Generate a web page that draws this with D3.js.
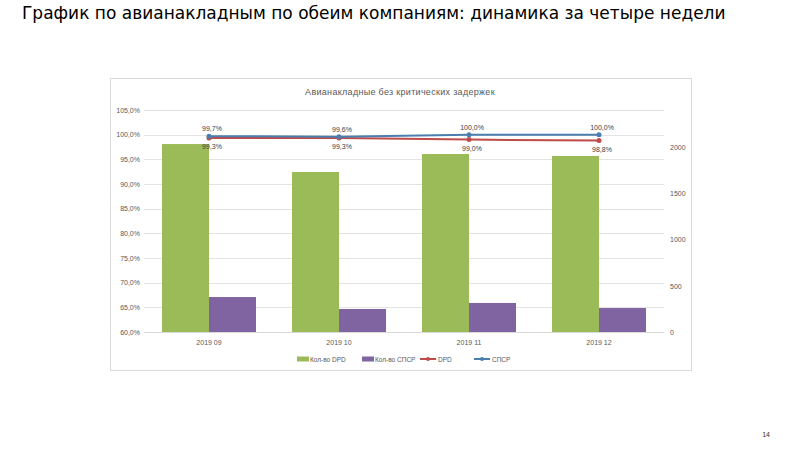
<!DOCTYPE html>
<html>
<head>
<meta charset="utf-8">
<script src="https://cdn.jsdelivr.net/npm/d3@7"></script>
<style>
  body { margin: 0; background: #fff; }
  svg { display: block; font-family: "Liberation Sans", Arial, sans-serif; }
</style>
</head>
<body>
<svg id="chart" width="800" height="449"></svg>
<script>
// data
var months = ["2019 09", "2019 10", "2019 11", "2019 12"];
var countDPD = [2032, 1730, 1924, 1903];
var countSPSR = [378, 249, 314, 259];
var shareDPD = [99.3, 99.3, 99.0, 98.8];
var shareSPSR = [99.7, 99.6, 100.0, 100.0];
var leftTicks = [60, 65, 70, 75, 80, 85, 90, 95, 100, 105];
var rightTicks = [0, 500, 1000, 1500, 2000];
var legendNames = ["Кол-во DPD", "Кол-во СПСР", "DPD", "СПСР"];

var colors = { green: "#9bbb59", purple: "#8064a2", red: "#be4b48", blue: "#4a7eae" };

var svg = d3.select("#chart");

// slide title
svg.append("text")
    .attr("x", 22)
    .attr("y", 19)
    .attr("font-family", "DejaVu Sans")
    .attr("font-size", 17)
    .attr("fill", "#000")
    .text("График по авианакладным по обеим компаниям: динамика за четыре недели");

// page number
svg.append("text")
    .attr("x", 770)
    .attr("y", 437)
    .attr("text-anchor", "end")
    .attr("font-size", 7)
    .attr("fill", "#333")
    .text("14");

// chart frame
svg.append("rect")
    .attr("x", 110.5)
    .attr("y", 78.5)
    .attr("width", 581)
    .attr("height", 292)
    .attr("fill", "#fff")
    .attr("stroke", "#d9d9d9");

svg.append("text")
    .attr("x", 400)
    .attr("y", 95)
    .attr("text-anchor", "middle")
    .attr("font-size", 9)
    .attr("letter-spacing", 0.3)
    .attr("fill", "#595959")
    .text("Авианакладные без критических задержек");

var plot = { left: 144, right: 664, top: 110, bottom: 332 };

var x0 = d3.scaleBand().domain(months).range([plot.left, plot.right]).padding(0);
var x1 = d3.scaleBand().domain(["dpd", "spsr"]).range([0, x0.bandwidth()])
    .paddingInner(0).paddingOuter(0.383);
var yLeft = d3.scaleLinear().domain([60, 105]).range([plot.bottom, plot.top]);
var yRight = d3.scaleLinear().domain([0, 2400]).range([plot.bottom, plot.top]);

// gridlines
svg.append("g")
    .selectAll("line")
    .data(leftTicks)
    .enter()
    .append("line")
    .attr("x1", plot.left)
    .attr("x2", plot.right)
    .attr("y1", function(d) { return Math.round(yLeft(d)) + 0.5; })
    .attr("y2", function(d) { return Math.round(yLeft(d)) + 0.5; })
    .attr("stroke", "#e3e3e3");

// left axis
var fmtPct = function(d) { return d.toFixed(1).replace(".", ",") + "%"; };
var gl = svg.append("g")
    .attr("transform", "translate(" + (plot.left - 4) + ",0)")
    .call(d3.axisLeft(yLeft).tickValues(leftTicks).tickFormat(fmtPct).tickSize(0).tickPadding(0));
gl.select(".domain").remove();
gl.selectAll("text").attr("font-size", 7).attr("fill", "#595959").attr("font-family", "Liberation Sans");

// right axis
var gr = svg.append("g")
    .attr("transform", "translate(" + (plot.right + 6) + ",0)")
    .call(d3.axisRight(yRight).tickValues(rightTicks).tickFormat(d3.format("d")).tickSize(0).tickPadding(0));
gr.select(".domain").remove();
gr.selectAll("text").attr("font-size", 7).attr("fill", "#595959").attr("font-family", "Liberation Sans");

// bars
var barData = months.map(function(m, i) {
    return [
        { month: m, key: "dpd", value: countDPD[i], color: colors.green },
        { month: m, key: "spsr", value: countSPSR[i], color: colors.purple }
    ];
});

svg.append("g")
    .selectAll("g")
    .data(barData)
    .enter()
    .append("g")
    .attr("transform", function(d) { return "translate(" + x0(d[0].month) + ",0)"; })
    .selectAll("rect")
    .data(function(d) { return d; })
    .enter()
    .append("rect")
    .attr("x", function(d) { return x1(d.key); })
    .attr("width", x1.bandwidth())
    .attr("y", function(d) { return yRight(d.value); })
    .attr("height", function(d) { return plot.bottom - yRight(d.value); })
    .attr("fill", function(d) { return d.color; });

// bottom axis
var gx = svg.append("g")
    .attr("transform", "translate(0," + plot.bottom + ")")
    .call(d3.axisBottom(x0).tickSize(0).tickPadding(8));
gx.select(".domain").attr("stroke", "#d9d9d9");
gx.selectAll("text").attr("font-size", 7).attr("fill", "#595959").attr("font-family", "Liberation Sans");

// lines
var cx = function(i) { return x0(months[i]) + x0.bandwidth() / 2; };
var line = d3.line()
    .x(function(d, i) { return cx(i); })
    .y(function(d) { return yLeft(d); });

var series = [
    { values: shareDPD, color: colors.red, dy: 11 },
    { values: shareSPSR, color: colors.blue, dy: -5 }
];

series.forEach(function(s) {
    svg.append("path")
        .datum(s.values)
        .attr("d", line)
        .attr("fill", "none")
        .attr("stroke", s.color)
        .attr("stroke-width", 2);

    svg.append("g")
        .selectAll("circle")
        .data(s.values)
        .enter()
        .append("circle")
        .attr("cx", function(d, i) { return cx(i); })
        .attr("cy", function(d) { return yLeft(d); })
        .attr("r", 2.5)
        .attr("fill", s.color);

    svg.append("g")
        .selectAll("text")
        .data(s.values)
        .enter()
        .append("text")
        .attr("x", function(d, i) { return cx(i) + 3; })
        .attr("y", function(d) { return yLeft(d) + s.dy; })
        .attr("text-anchor", "middle")
        .attr("font-size", 7)
        .attr("fill", "#404040")
        .text(fmtPct);
});

// legend
var legend = svg.append("g").attr("transform", "translate(0,359)");
var legendItems = [
    { x: 297, name: legendNames[0], color: colors.green, type: "bar" },
    { x: 362, name: legendNames[1], color: colors.purple, type: "bar" },
    { x: 420, name: legendNames[2], color: colors.red, type: "line" },
    { x: 474, name: legendNames[3], color: colors.blue, type: "line" }
];

legendItems.forEach(function(it) {
    if (it.type === "bar") {
        legend.append("rect")
            .attr("x", it.x)
            .attr("y", -2.5)
            .attr("width", 12)
            .attr("height", 5)
            .attr("fill", it.color);
    } else {
        legend.append("line")
            .attr("x1", it.x)
            .attr("x2", it.x + 16)
            .attr("y1", 0)
            .attr("y2", 0)
            .attr("stroke", it.color)
            .attr("stroke-width", 2);
        legend.append("circle")
            .attr("cx", it.x + 8)
            .attr("cy", 0)
            .attr("r", 2)
            .attr("fill", it.color);
    }
    legend.append("text")
        .attr("x", it.x + (it.type === "bar" ? 13 : 18))
        .attr("y", 2.5)
        .attr("font-size", 6.5)
        .attr("fill", "#595959")
        .text(it.name);
});
</script>
</body>
</html>
